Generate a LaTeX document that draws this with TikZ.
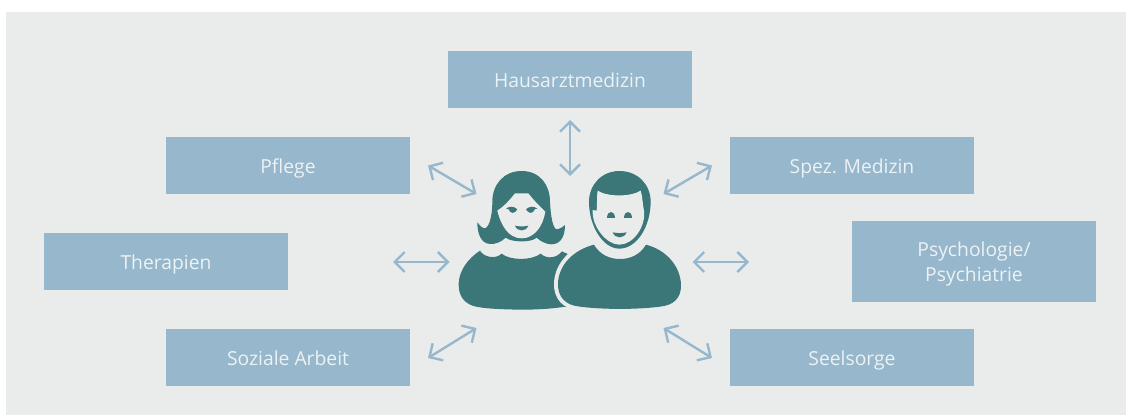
\documentclass[tikz,border=0pt]{standalone}
\usepackage{fontspec}
\setmainfont{Open Sans}
\usetikzlibrary{arrows.meta}
\definecolor{panelgray}{HTML}{EAECEC}
\definecolor{boxblue}{HTML}{96B7CC}
\definecolor{peopleteal}{HTML}{3B7678}
\definecolor{boxtext}{HTML}{EDF2F5}
\tikzset{
	fieldbox/.style={fill=boxblue, text=boxtext, minimum width=244pt, minimum height=57pt, align=center, inner sep=0pt, text height=15pt, text depth=0pt, font=\fontsize{19.3}{24.7}\selectfont},
	biarrow/.style={draw=boxblue, line width=2.4pt, {Straight Barb[length=10pt,width=20pt]}-{Straight Barb[length=10pt,width=20pt]}},
	figure/.style={fill=peopleteal, draw=none},
	cutout/.style={fill=panelgray, draw=none}
}
\begin{document}
\begin{tikzpicture}[x=1pt,y=-1pt]
	\useasboundingbox (0,0) rectangle (1126,415);
	\fill[panelgray] (6,12) rectangle (1126,415);

	\foreach \name/\x/\y/\t in {hausarzt/570/79.5/Hausarztmedizin, pflege/288/165.5/Pflege, spez/852/165.5/Spez. Medizin, therapien/166/261.5/Therapien, soziale/288/357.5/Soziale Arbeit, seelsorge/852/357.5/Seelsorge}{
		\node[fieldbox] (\name) at (\x,\y) {\t};
	}
	\node[fieldbox, minimum height=81pt, text height=39pt, text depth=0pt] (psych) at (974,261.5) {Psychologie/\\Psychiatrie};

	% arrow ends
	\foreach \name/\ax/\ay/\bx/\by in {hausarzt/570/120/570/176, pflege/428/165.5/476.5/194, spez/712/165.5/663.5/194, therapien/393/262/449.5/262, psych/749/262/692.5/262, soziale/428/358/476.5/328, seelsorge/712/358/663.5/328}{
		\coordinate (\name-out) at (\ax,\ay);
		\coordinate (\name-in) at (\bx,\by);
		\draw[biarrow] (\name-out) -- (\name-in);
	}

	\begin{scope}[shift={(440,160)}, x=0.3333pt, y=-0.3333pt]
		% woman
		\path[figure] (120,272) .. controls (130,290) and (165,300) .. (185,281)
			.. controls (210,302) and (275,302) .. (302,281)
			.. controls (320,298) and (350,295) .. (366,274)
			-- (400,290) -- (400,438) -- (370,441)
			.. controls (320,448) and (280,449) .. (240,449)
			.. controls (180,448) and (130,446) .. (100,438)
			.. controls (70,428) and (55,405) .. (56,370)
			.. controls (58,330) and (85,295) .. (120,272) -- cycle;
		\path[figure] (245,33) .. controls (300,33) and (330,75) .. (330,125)
			.. controls (332,165) and (338,210) .. (352,208)
			.. controls (362,207) and (368,200) .. (375,195)
			.. controls (375,225) and (365,252) .. (335,253)
			.. controls (320,253) and (302,245) .. (290,233)
			.. controls (275,248) and (215,248) .. (197,233)
			.. controls (185,245) and (168,253) .. (150,252)
			.. controls (122,250) and (112,220) .. (112,187)
			.. controls (118,195) and (126,205) .. (135,205)
			.. controls (150,200) and (157,160) .. (157,125)
			.. controls (157,75) and (190,33) .. (245,33) -- cycle;
		\path[cutout] (225,100) -- (265,100)
			.. controls (285,125) and (300,140) .. (316,155)
			.. controls (310,195) and (285,235) .. (245,235)
			.. controls (205,235) and (182,195) .. (172,152)
			.. controls (190,140) and (205,125) .. (225,100) -- cycle;
		\path[figure] (198,146) .. controls (208,138) and (222,138) .. (232,148)
			.. controls (225,162) and (210,162) .. (206,148) -- cycle;
		\path[figure] (292,146) .. controls (282,138) and (268,138) .. (258,148)
			.. controls (265,162) and (280,162) .. (284,148) -- cycle;
		\path[figure] (225,197) .. controls (238,200) and (252,200) .. (265,197)
			.. controls (258,216) and (232,216) .. (225,197) -- cycle;
		% man
		\path[figure, preaction={draw=panelgray, line width=8pt}] (462,254)
			.. controls (480,285) and (510,297) .. (540,297)
			.. controls (570,297) and (600,285) .. (618,254)
			.. controls (680,270) and (722,320) .. (723,375)
			.. controls (724,415) and (700,436) .. (660,440)
			.. controls (590,449) and (490,449) .. (420,440)
			.. controls (375,436) and (353,410) .. (354,370)
			.. controls (356,315) and (400,270) .. (462,254) -- cycle;
		\path[figure] (538,33) .. controls (595,33) and (632,75) .. (632,125)
			.. controls (632,200) and (590,266) .. (538,266)
			.. controls (490,266) and (447,200) .. (447,125)
			.. controls (447,75) and (485,33) .. (538,33) -- cycle;
		\path[cutout] (473,92) .. controls (500,110) and (570,112) .. (602,92)
			.. controls (608,110) and (608,135) .. (612,152)
			.. controls (618,200) and (580,254) .. (538,254)
			.. controls (500,254) and (455,200) .. (458,150)
			-- (470,152) .. controls (472,130) and (470,110) .. (473,92) -- cycle;
		\path[figure] (502,175) .. controls (502,150) and (526,150) .. (526,175) -- cycle;
		\path[figure] (552,175) .. controls (552,150) and (576,150) .. (576,175) -- cycle;
		\path[figure] (518,217) .. controls (532,220) and (546,220) .. (560,217)
			.. controls (552,237) and (526,237) .. (518,217) -- cycle;
	\end{scope}
\end{tikzpicture}
\end{document}
